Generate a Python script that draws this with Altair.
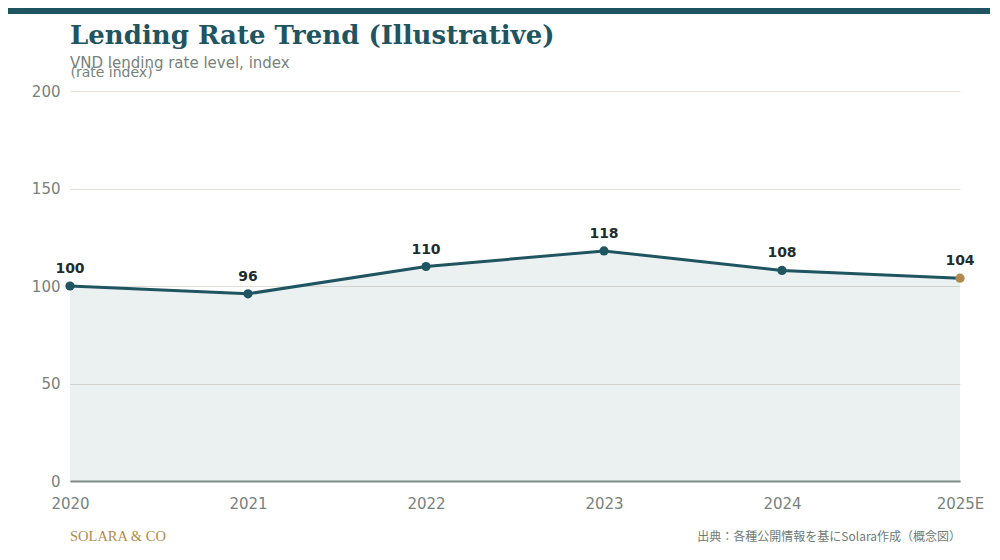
import altair as alt
import pandas as pd

years = ["2020", "2021", "2022", "2023", "2024", "2025E"]
values = [100, 96, 110, 118, 108, 104]
kinds = ["actual", "actual", "actual", "actual", "actual", "estimate"]
y_ticks = [0, 50, 100, 150, 200]

title_text = "Lending Rate Trend (Illustrative)"
subtitle_text = "VND lending rate level, index"
y_title = "(rate index)"
brand = "SOLARA & CO"
source = "出典：各種公開情報を基にSolara作成（概念図）"

TEAL = "#1f5461"
GOLD = "#b08a4e"
GREY = "#77827c"
SANS = "DejaVu Sans"
SERIF = "DejaVu Serif"

df = pd.DataFrame({"year": years, "value": values, "kind": kinds})

x = alt.X("year:N", sort=years,
          scale=alt.Scale(type="point", padding=0),
          axis=alt.Axis(title=None, labelAngle=0, labelFontSize=15, labelColor=GREY,
                        labelFont=SANS, labelPadding=15, ticks=False,
                        domain=True, domainColor="#7f8c84", domainWidth=2, grid=False))
y = alt.Y("value:Q",
          scale=alt.Scale(domain=[0, 200], nice=False),
          axis=alt.Axis(values=y_ticks, title=y_title, titleAngle=0, titleX=0, titleY=-15,
                        titleAlign="left", titleBaseline="alphabetic",
                        titleFontSize=14, titleFontWeight="normal", titleColor=GREY,
                        titleFont=SANS,
                        labelFontSize=15, labelColor=GREY, labelFont=SANS,
                        labelPadding=10, ticks=False, domain=False,
                        grid=True, gridColor="#e3dfd7", gridWidth=1))

base = alt.Chart(df)

area = base.mark_area(color=TEAL, opacity=0.09).encode(x=x, y=y)
line = base.mark_line(color=TEAL, strokeWidth=3).encode(x=x, y=y)
points = base.mark_circle(size=85, opacity=1).encode(
    x=x, y=y,
    color=alt.Color("kind:N", scale=alt.Scale(domain=["actual", "estimate"], range=[TEAL, GOLD]),
                    legend=None))
labels = base.mark_text(dy=-17, fontSize=14, fontWeight="bold", color="#1e2e2e",
                        font=SANS).encode(x=x, y=y, text=alt.Text("value:Q"))

stripe = alt.Chart(pd.DataFrame({"a": [0]})).mark_rule(color=TEAL, strokeWidth=6).encode(
    x=alt.value(-62), x2=alt.value(920), y=alt.value(-80))

foot_l = alt.Chart(pd.DataFrame({"t": [brand]})).mark_text(
    align="left", baseline="middle", font="Liberation Serif", fontSize=14.5, color=GOLD).encode(
    x=alt.value(0), y=alt.value(446), text="t:N")
foot_r = alt.Chart(pd.DataFrame({"t": [source]})).mark_text(
    align="right", baseline="middle", font="Noto Sans CJK JP", fontSize=12, color="#6f7a75").encode(
    x=alt.value(891), y=alt.value(446), text="t:N")

chart = alt.layer(area, line, points, labels, stripe, foot_l, foot_r).properties(
    width=890, height=390,
    background="white",
    autosize=alt.AutoSizeParams(type="none"),
    padding={"left": 62, "top": 83, "right": 30, "bottom": 71},
    title=alt.TitleParams(text=title_text, subtitle=subtitle_text, anchor="start", frame="group",
                          font=SERIF, fontSize=26, fontWeight="bold", color=TEAL,
                          subtitleFont=SANS, subtitleFontSize=15, subtitleColor=GREY,
                          subtitlePadding=7, offset=-63),
).configure_view(strokeWidth=0, stroke=None)

chart.save("out.html", embed_options={"renderer": "svg", "actions": False})
